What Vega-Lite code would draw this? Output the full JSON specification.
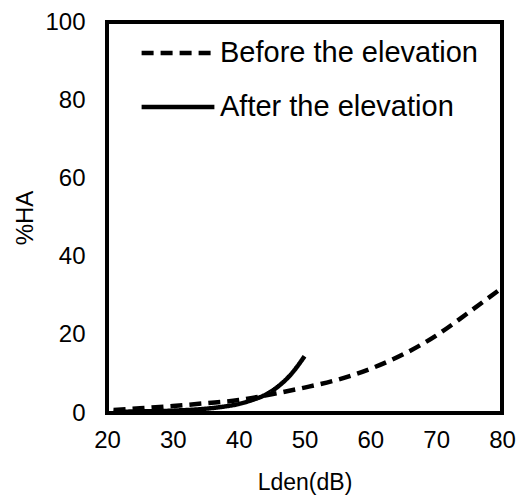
{
  "$schema": "https://vega.github.io/schema/vega-lite/v6.json",
  "autosize": "none",
  "width": 395,
  "height": 391,
  "padding": {"left": 107, "top": 22, "right": 23, "bottom": 82},
  "background": "white",
  "config": {
    "font": "Liberation Sans",
    "view": {"stroke": "black", "strokeWidth": 4},
    "axis": {"domain": false, "ticks": false, "tickSize": 0, "grid": false, "labelFlush": false, "labelOverlap": false, "labelColor": "black", "titleColor": "black", "labelFont": "Liberation Sans", "titleFont": "Liberation Sans", "titleFontWeight": "normal"}
  },
  "data": {
    "values": [
      {"series": "Before the elevation", "lden": 21, "ha": 0.8},
      {"series": "Before the elevation", "lden": 25, "ha": 1.2},
      {"series": "Before the elevation", "lden": 30, "ha": 1.8},
      {"series": "Before the elevation", "lden": 35, "ha": 2.5},
      {"series": "Before the elevation", "lden": 40, "ha": 3.3},
      {"series": "Before the elevation", "lden": 45, "ha": 4.8},
      {"series": "Before the elevation", "lden": 50, "ha": 6.5},
      {"series": "Before the elevation", "lden": 55, "ha": 8.5},
      {"series": "Before the elevation", "lden": 60, "ha": 11.3},
      {"series": "Before the elevation", "lden": 65, "ha": 15.0},
      {"series": "Before the elevation", "lden": 70, "ha": 19.8},
      {"series": "Before the elevation", "lden": 75, "ha": 25.8},
      {"series": "Before the elevation", "lden": 80, "ha": 32.0},
      {"series": "After the elevation", "lden": 21, "ha": 0.3},
      {"series": "After the elevation", "lden": 25, "ha": 0.4},
      {"series": "After the elevation", "lden": 30, "ha": 0.6},
      {"series": "After the elevation", "lden": 35, "ha": 1.1},
      {"series": "After the elevation", "lden": 38, "ha": 1.7},
      {"series": "After the elevation", "lden": 40, "ha": 2.3},
      {"series": "After the elevation", "lden": 42, "ha": 3.3},
      {"series": "After the elevation", "lden": 44, "ha": 4.6},
      {"series": "After the elevation", "lden": 46, "ha": 6.8},
      {"series": "After the elevation", "lden": 48, "ha": 10.0},
      {"series": "After the elevation", "lden": 50, "ha": 14.5}
    ]
  },
  "mark": {"type": "line", "color": "black", "strokeWidth": 4.5, "interpolate": "monotone", "clip": true},
  "encoding": {
    "x": {
      "field": "lden", "type": "quantitative",
      "scale": {"domain": [20, 80], "nice": false, "zero": false},
      "axis": {"values": [20, 30, 40, 50, 60, 70, 80], "title": "Lden(dB)", "labelFontSize": 24, "labelPadding": 15, "titleFontSize": 23, "titlePadding": 19}
    },
    "y": {
      "field": "ha", "type": "quantitative",
      "scale": {"domain": [0, 100], "nice": false},
      "axis": {"values": [0, 20, 40, 60, 80, 100], "title": "%HA", "labelFontSize": 24, "labelPadding": 22, "titleFontSize": 24, "titlePadding": 7}
    },
    "strokeDash": {
      "field": "series", "type": "nominal",
      "scale": {"domain": ["Before the elevation", "After the elevation"], "range": [[12, 7], [1, 0]]},
      "legend": {
        "orient": "none", "legendX": 32, "legendY": -8, "title": null,
        "symbolType": "stroke", "symbolSize": 5300, "symbolStrokeWidth": 4.5, "symbolStrokeColor": "black",
        "labelFontSize": 29, "labelColor": "black", "labelFont": "Liberation Sans", "labelOffset": 3, "labelLimit": 0, "rowPadding": 0
      }
    }
  }
}
